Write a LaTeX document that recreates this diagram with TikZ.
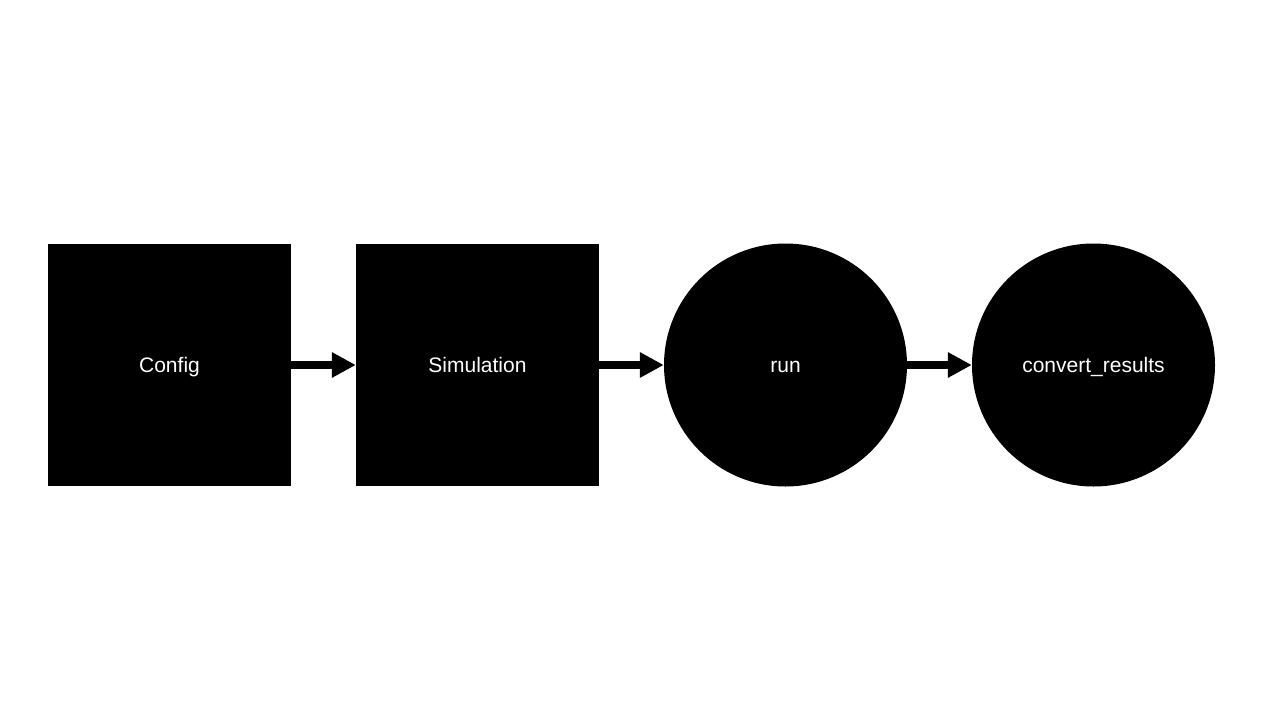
\documentclass[tikz,border=0pt]{standalone}
\usepackage{fontspec}
\setmainfont{Liberation Sans}
\usetikzlibrary{arrows.meta}
\begin{document}
\begin{tikzpicture}[x=1pt,y=-1pt,
  lbl/.style={text=white,font=\fontsize{21}{25}\selectfont,text height=14.6pt,text depth=0pt},
  sqbox/.style={lbl,fill=black,draw=none,minimum width=243pt,minimum height=242pt,inner sep=0pt},
  circbox/.style={lbl,circle,fill=black,draw=none,minimum size=243pt,inner sep=0pt},
  flow/.style={line width=8pt,-{Triangle[length=24pt,width=24pt]}}]
\useasboundingbox (0,0) rectangle (1280,720);
\node[sqbox] (config) at (169.5,365) {Config};
\node[sqbox] (sim) at (477.5,365) {Simulation};
\node[circbox] (run) at (785.5,365) {run};
\node[circbox] (conv) at (1093.5,365) {convert\_results};
\draw[flow] (config.east) -- (sim.west);
\draw[flow] (sim.east) -- (run.west);
\draw[flow] (run.east) -- (conv.west);
\end{tikzpicture}
\end{document}
